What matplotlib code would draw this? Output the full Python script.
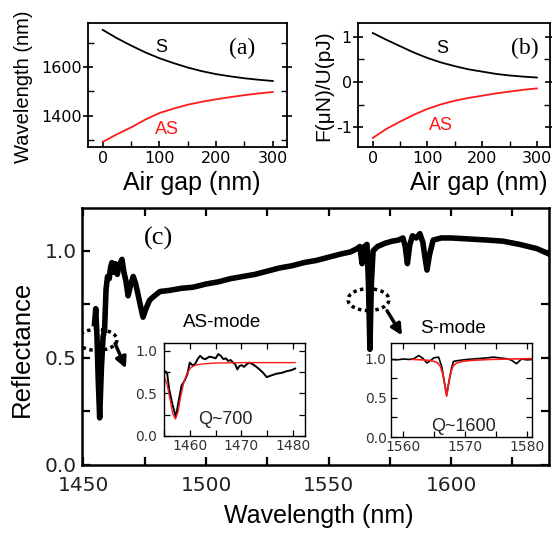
import matplotlib
matplotlib.use("Agg")
import matplotlib.pyplot as plt
from matplotlib.patches import Ellipse
from matplotlib.ticker import MultipleLocator, FixedLocator

plt.rcParams['axes.unicode_minus'] = False

# ---------------- data ----------------
gap = [0, 25, 50, 75, 100, 125, 150, 175, 200, 225, 250, 275, 300]
wl_S = [1752, 1718, 1688, 1660, 1636, 1616, 1598, 1583, 1571, 1562, 1554, 1548, 1543]
wl_AS = [1294, 1325, 1353, 1385, 1412, 1430, 1446, 1458, 1468, 1477, 1485, 1492, 1498]
force_S = [1.08, 0.93, 0.79, 0.65, 0.53, 0.43, 0.35, 0.28, 0.23, 0.18, 0.145, 0.12, 0.10]
force_AS = [-1.23, -1.03, -0.87, -0.72, -0.59, -0.49, -0.41, -0.35, -0.30, -0.25, -0.21, -0.17, -0.14]

main_wl = [1454.5, 1455.0, 1455.5, 1456.0, 1456.6, 1457.3, 1458.0, 1458.6, 1459.2, 1459.8,
           1460.5, 1461.0, 1461.6, 1462.3, 1463.0, 1463.8, 1464.5, 1465.7, 1466.5, 1467.3,
           1468.2, 1469.2, 1470.3, 1471.2, 1472.2, 1473.3, 1474.3, 1475.5, 1477.0, 1479.0,
           1481.2, 1485.0, 1490.0, 1494.7, 1500.0, 1505.0, 1510.0, 1515.0, 1520.0, 1525.0,
           1530.0, 1535.0, 1540.0, 1545.0, 1550.0, 1555.0, 1559.0, 1561.6, 1562.8, 1563.7,
           1564.6, 1565.7, 1566.3, 1566.9, 1567.5, 1568.2, 1570.0, 1573.0, 1576.0, 1578.5,
           1580.4, 1581.3, 1582.2, 1583.2, 1584.3, 1585.8, 1587.3, 1588.5, 1589.5, 1590.2,
           1591.2, 1592.7, 1596.0, 1600.0, 1607.8, 1615.0, 1621.2, 1628.0, 1635.1, 1640.0]
main_r = [0.66, 0.73, 0.60, 0.40, 0.22, 0.45, 0.60, 0.63, 0.82, 0.88,
          0.87, 0.92, 0.945, 0.90, 0.94, 0.89, 0.93, 0.96, 0.90, 0.86,
          0.79, 0.84, 0.88, 0.85, 0.80, 0.74, 0.69, 0.73, 0.77, 0.79,
          0.81, 0.815, 0.825, 0.83, 0.845, 0.855, 0.87, 0.88, 0.89, 0.905,
          0.92, 0.93, 0.945, 0.955, 0.97, 0.985, 0.995, 1.01, 1.02, 0.94,
          1.02, 1.03, 0.85, 0.54, 0.85, 1.00, 1.02, 1.035, 1.045, 1.05,
          1.06, 1.02, 0.94, 1.03, 1.07, 1.06, 1.08, 1.04, 0.96, 0.91,
          0.98, 1.05, 1.06, 1.06, 1.055, 1.05, 1.045, 1.03, 1.01, 0.985]

as_wl = [1455.0, 1455.2, 1455.6, 1456.0, 1456.6, 1457.3, 1457.8, 1458.4, 1459.0, 1459.5,
         1460.0, 1460.5, 1461.0, 1461.5, 1462.0, 1462.5, 1463.0, 1463.8, 1464.5, 1465.0,
         1465.5, 1466.0, 1466.5, 1467.0, 1467.4, 1467.9, 1468.4, 1468.8, 1469.2, 1469.6,
         1470.0, 1470.5, 1471.0, 1471.5, 1472.2, 1472.9, 1473.5, 1474.2, 1474.9, 1475.8,
         1476.8, 1477.8, 1478.8, 1479.6, 1480.4]
as_r = [0.72, 0.76, 0.74, 0.55, 0.38, 0.22, 0.40, 0.59, 0.65, 0.72,
        0.86, 0.83, 0.84, 0.90, 0.94, 0.91, 0.90, 0.93, 0.92, 0.91,
        0.96, 0.94, 0.90, 0.91, 0.88, 0.89, 0.86, 0.84, 0.78, 0.82,
        0.83, 0.81, 0.84, 0.86, 0.84, 0.81, 0.78, 0.74, 0.69, 0.71,
        0.73, 0.74, 0.76, 0.77, 0.79]
as_fit_wl = [1455.0, 1455.6, 1456.2, 1456.7, 1457.2, 1457.7, 1458.2, 1458.8, 1459.5, 1460.2,
             1461.0, 1462.5, 1465.0, 1470.0, 1475.0, 1480.4]
as_fit_r = [0.70, 0.60, 0.42, 0.26, 0.20, 0.28, 0.45, 0.62, 0.74, 0.80,
            0.83, 0.845, 0.855, 0.86, 0.86, 0.86]

s_wl = [1558.0, 1559.0, 1560.0, 1561.0, 1561.7, 1562.5, 1563.2, 1563.8, 1564.4, 1564.9,
        1565.7, 1566.2, 1566.6, 1567.0, 1567.4, 1567.8, 1568.1, 1568.8, 1570.3, 1572.0,
        1573.5, 1574.6, 1575.5, 1576.7, 1577.5, 1578.3, 1579.1, 1580.0, 1580.8]
s_r = [0.99, 0.985, 0.995, 0.99, 1.0, 1.04, 1.0, 0.945, 0.975, 1.01,
       1.02, 0.90, 0.72, 0.54, 0.72, 0.88, 0.965, 0.975, 0.99, 1.0,
       1.01, 1.02, 1.01, 1.0, 0.98, 0.935, 0.995, 0.985, 0.99]
s_fit_wl = [1561.5, 1563.0, 1564.5, 1565.5, 1566.0, 1566.4, 1566.7, 1567.0, 1567.3, 1567.6,
            1568.0, 1568.5, 1569.5, 1571.0, 1574.0, 1577.0, 1580.8]
s_fit_r = [0.99, 0.985, 0.975, 0.95, 0.90, 0.80, 0.66, 0.52, 0.66, 0.80,
           0.90, 0.94, 0.965, 0.978, 0.99, 0.995, 1.0]

RED = '#ff1a1a'
LAB = 'Liberation Sans'
TICK = 'DejaVu Sans'
SERIF = 'Liberation Serif'

fig = plt.figure(figsize=(5.52, 5.33), dpi=100)


def style_small(ax):
    for s in ax.spines.values():
        s.set_linewidth(1.3)
    ax.tick_params(axis='y', which='major', direction='inout', length=7, width=1.2, pad=1)
    ax.tick_params(axis='x', which='major', direction='in', length=4, width=1.2, pad=3)
    ax.tick_params(which='major', labelsize=11.5)
    ax.tick_params(which='minor', direction='in', length=4, width=1.0)
    ax.tick_params(which='both', right=True, top=False)
    for lab in ax.get_xticklabels() + ax.get_yticklabels():
        lab.set_fontfamily(TICK)


# ---------- panel (a) ----------
axa = fig.add_axes([0.1594, 0.7242, 0.3605, 0.2326])
axa.plot(gap, wl_S, color='k', lw=1.3)
axa.plot(gap, wl_AS, color=RED, lw=1.3)
axa.set_xlim(-26, 325)
axa.set_ylim(1273, 1780)
axa.xaxis.set_major_locator(MultipleLocator(100))
axa.xaxis.set_minor_locator(MultipleLocator(50))
axa.yaxis.set_major_locator(FixedLocator([1400, 1600]))
axa.yaxis.set_minor_locator(FixedLocator([1300, 1500, 1700]))
style_small(axa)
axa.set_ylabel('Wavelength (nm)', fontsize=14.5, family=LAB)
axa.yaxis.set_label_coords(-0.276, 0.488)
axa.set_xlabel('Air gap (nm)', fontsize=18, family=LAB)
axa.xaxis.set_label_coords(0.52, -0.19)
axa.text(104, 1678, 'S', fontsize=13, family=LAB, ha='center', va='center')
axa.text(113, 1343, 'AS', fontsize=13, family=LAB, color=RED, ha='center', va='center')
axa.text(245, 1678, '(a)', fontsize=17, family=SERIF, ha='center', va='center')

# ---------- panel (b) ----------
axb = fig.add_axes([0.6486, 0.7242, 0.3478, 0.2326])
axb.plot(gap, force_S, color='k', lw=1.3)
axb.plot(gap, force_AS, color=RED, lw=1.3)
axb.set_xlim(-27, 324)
axb.set_ylim(-1.43, 1.3)
axb.xaxis.set_major_locator(MultipleLocator(100))
axb.xaxis.set_minor_locator(MultipleLocator(50))
axb.yaxis.set_major_locator(MultipleLocator(1))
axb.yaxis.set_minor_locator(MultipleLocator(0.5))
style_small(axb)
axb.set_ylabel('F(μN)/U(pJ)', fontsize=15, family=LAB)
axb.yaxis.set_label_coords(-0.13, 0.496)
axb.set_xlabel('Air gap (nm)', fontsize=18, family=LAB)
axb.xaxis.set_label_coords(0.628, -0.19)
axb.text(126, 0.75, 'S', fontsize=13, family=LAB, ha='center', va='center')
axb.text(124, -0.95, 'AS', fontsize=13, family=LAB, color=RED, ha='center', va='center')
axb.text(278, 0.75, '(b)', fontsize=17, family=SERIF, ha='center', va='center')

# ---------- panel (c) ----------
axc = fig.add_axes([0.1486, 0.1276, 0.846, 0.4822])
axc.plot(main_wl, main_r, color='k', lw=4.0, solid_joinstyle='round')
axc.set_xlim(1449.4, 1640)
axc.set_ylim(0, 1.2)
axc.xaxis.set_major_locator(MultipleLocator(50))
axc.xaxis.set_minor_locator(MultipleLocator(25))
axc.yaxis.set_major_locator(MultipleLocator(0.5))
axc.yaxis.set_minor_locator(MultipleLocator(0.25))
axc.yaxis.set_major_formatter(matplotlib.ticker.FormatStrFormatter('%.1f'))
for s in axc.spines.values():
    s.set_linewidth(1.8)
axc.tick_params(which='both', direction='in', length=6, width=1.6, top=True, right=True)
axc.tick_params(which='major', labelsize=14.5)
axc.tick_params(axis='x', which='major', pad=8)
axc.tick_params(axis='y', which='major', pad=4)
for lab in axc.get_xticklabels() + axc.get_yticklabels():
    lab.set_fontfamily(TICK)
    lab.set_color('#222222')
axc.set_ylabel('Reflectance', fontsize=18.5, family=LAB)
axc.yaxis.set_label_coords(-0.103, 0.453)
axc.set_xlabel('Wavelength (nm)', fontsize=18, family=LAB)
axc.xaxis.set_label_coords(0.507, -0.15)
axc.text(1480.5, 1.06, '(c)', fontsize=19, family=SERIF, ha='center', va='center')
axc.text(1506.6, 0.665, 'AS-mode', fontsize=13.5, family=LAB, ha='center', va='center')
axc.text(1600.8, 0.637, 'S-mode', fontsize=13.5, family=LAB, ha='center', va='center')

axc.add_patch(Ellipse((1455.5, 0.584), 16.3, 0.098, fill=False, ls=(0, (1, 1)),
                      lw=2.5, color='k', zorder=5))
axc.add_patch(Ellipse((1566.3, 0.772), 16.7, 0.102, fill=False, ls=(0, (1, 1)),
                      lw=2.5, color='k', zorder=5))
arrow = dict(arrowstyle='-|>', lw=2.5, color='k', mutation_scale=16, shrinkA=0, shrinkB=0)
axc.annotate('', xy=(1467.3, 0.451), xytext=(1462.9, 0.567), arrowprops=arrow)
axc.annotate('', xy=(1580.0, 0.605), xytext=(1573.9, 0.72), arrowprops=arrow)


def style_inset(ax, pad):
    for s in ax.spines.values():
        s.set_linewidth(1.0)
    ax.tick_params(which='both', direction='in', length=4, width=0.9, top=True, right=True)
    ax.tick_params(which='major', labelsize=10)
    ax.tick_params(axis='x', which='major', pad=2)
    ax.tick_params(axis='y', which='major', pad=pad)
    ax.yaxis.set_major_locator(MultipleLocator(0.5))
    ax.yaxis.set_minor_locator(MultipleLocator(0.25))
    ax.xaxis.set_major_locator(MultipleLocator(10))
    ax.xaxis.set_minor_locator(MultipleLocator(5))
    ax.yaxis.set_major_formatter(matplotlib.ticker.FormatStrFormatter('%.1f'))
    for lab in ax.get_xticklabels() + ax.get_yticklabels():
        lab.set_fontfamily(TICK)
        lab.set_color('#333333')


# AS inset
axi1 = fig.add_axes([0.2971, 0.182, 0.2554, 0.1745])
axi1.plot(as_wl, as_r, color='k', lw=1.4)
axi1.plot(as_fit_wl, as_fit_r, color=RED, lw=1.0)
axi1.set_xlim(1455, 1482.3)
axi1.set_ylim(0, 1.09)
style_inset(axi1, 5)
axi1.text(1466.8, 0.19, 'Q~700', fontsize=13, family=LAB, ha='center', va='center', color='#222222')

# S inset
axi2 = fig.add_axes([0.7083, 0.1801, 0.2554, 0.1764])
axi2.plot(s_wl, s_r, color='k', lw=1.2)
axi2.plot(s_fit_wl, s_fit_r, color=RED, lw=1.2)
axi2.set_xlim(1558, 1580.8)
axi2.set_ylim(0, 1.2)
style_inset(axi2, 3)
axi2.text(1569.7, 0.14, 'Q~1600', fontsize=13, family=LAB, ha='center', va='center', color='#222222')

fig.savefig('out.png', dpi=100)
